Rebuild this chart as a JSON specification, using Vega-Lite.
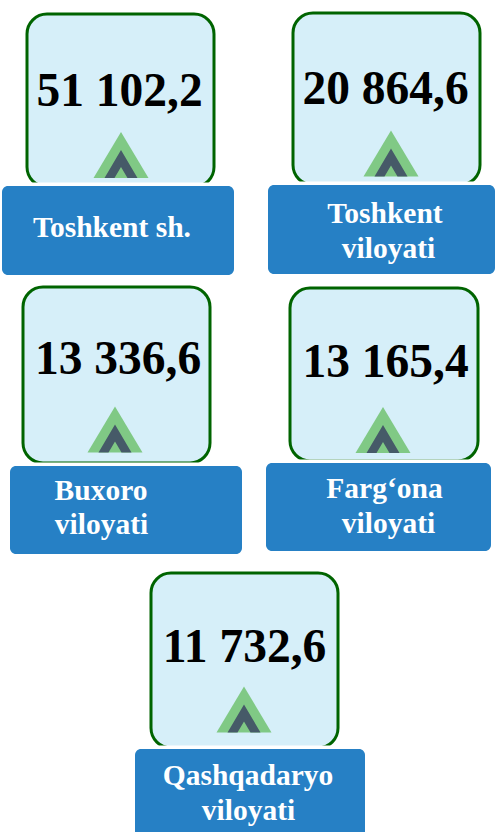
{
"$schema":"https://vega.github.io/schema/vega-lite/v6.json",
"width":495,"height":832,"padding":0,"autosize":"none",
"background":"white","view":{"stroke":null},
"datasets":{
"cards":[
{"rank":1,"end":11,"region":"Toshkent sh.","value":"51 102,2"},
{"rank":2,"end":12,"region":"Toshkent viloyati","value":"20 864,6"},
{"rank":3,"end":13,"region":"Buxoro viloyati","value":"13 336,6"},
{"rank":4,"end":14,"region":"Farg‘ona viloyati","value":"13 165,4"},
{"rank":5,"end":15,"region":"Qashqadaryo viloyati","value":"11 732,6"}],
"lines":[
{"n":1,"text":"Toshkent sh."},
{"n":2,"text":"Toshkent"},
{"n":3,"text":"viloyati"},
{"n":4,"text":"Buxoro"},
{"n":5,"text":"viloyati"},
{"n":6,"text":"Farg‘ona"},
{"n":7,"text":"viloyati"},
{"n":8,"text":"Qashqadaryo"},
{"n":9,"text":"viloyati"}]
},
"resolve":{"scale":{"x":"independent","y":"independent"}},
"layer":[
{"data":{"name":"cards"},"mark":{"type":"rect","fill":"#d6eff9","stroke":"#006400","strokeWidth":3,"cornerRadius":20},
"encoding":{
"x":{"field":"rank","type":"quantitative","axis":null,"scale":{"domain":[1,2,3,4,5,11,12,13,14,15],"range":[27,293,23,290,151,214,480,210,478,338]}},
"x2":{"field":"end"},
"y":{"field":"rank","type":"quantitative","axis":null,"scale":{"domain":[1,2,3,4,5,11,12,13,14,15],"range":[14,13,287,288,573,187,185,463,461,748]}},
"y2":{"field":"end"}}},
{"data":{"name":"cards"},"mark":{"type":"text","font":"Liberation Serif","fontWeight":"bold","fontSize":47.5,"align":"center","baseline":"alphabetic","fill":"#000000"},
"encoding":{
"x":{"field":"rank","type":"quantitative","axis":null,"scale":{"domain":[1,2,3,4,5],"range":[119.5,385.5,118,385.5,244.5]}},
"y":{"field":"rank","type":"quantitative","axis":null,"scale":{"domain":[1,2,3,4,5],"range":[106,104,374,377,662]}},
"text":{"field":"value"}}},
{"data":{"name":"cards"},"mark":{"type":"point","filled":true,"opacity":1,"size":3025,"strokeWidth":0,"fill":"#80c985","shape":"M0,-0.836L1,0.836L-1,0.836Z"},
"encoding":{
"x":{"field":"rank","type":"quantitative","axis":null,"scale":{"domain":[1,2,3,4,5],"range":[121,391,115,383,244]}},
"y":{"field":"rank","type":"quantitative","axis":null,"scale":{"domain":[1,2,3,4,5],"range":[155,153.5,429.5,430,709.5]}}}},
{"data":{"name":"cards"},"mark":{"type":"point","filled":true,"opacity":1,"size":3025,"strokeWidth":0,"fill":"#465a68","shape":"M0,-0.18L0.6,0.836L0.236,0.836L0,0.436L-0.236,0.836L-0.6,0.836Z"},
"encoding":{
"x":{"field":"rank","type":"quantitative","axis":null,"scale":{"domain":[1,2,3,4,5],"range":[121,391,115,383,244]}},
"y":{"field":"rank","type":"quantitative","axis":null,"scale":{"domain":[1,2,3,4,5],"range":[155,153.5,429.5,430,709.5]}}}},
{"data":{"name":"cards"},"mark":{"type":"rect","fill":"#ffffff","stroke":"#ffffff","strokeWidth":7,"cornerRadius":6},
"encoding":{
"x":{"field":"rank","type":"quantitative","axis":null,"scale":{"domain":[1,2,3,4,5,11,12,13,14,15],"range":[2,268,10,266,135,234,495,242,491,365]}},
"x2":{"field":"end"},
"y":{"field":"rank","type":"quantitative","axis":null,"scale":{"domain":[1,2,3,4,5,11,12,13,14,15],"range":[186,185,466,463,749,275,274,554,551,842]}},
"y2":{"field":"end"}}},
{"data":{"name":"cards"},"mark":{"type":"rect","fill":"#2680c5","cornerRadius":6},
"encoding":{
"x":{"field":"rank","type":"quantitative","axis":null,"scale":{"domain":[1,2,3,4,5,11,12,13,14,15],"range":[2,268,10,266,135,234,495,242,491,365]}},
"x2":{"field":"end"},
"y":{"field":"rank","type":"quantitative","axis":null,"scale":{"domain":[1,2,3,4,5,11,12,13,14,15],"range":[186,185,466,463,749,275,274,554,551,842]}},
"y2":{"field":"end"}}},
{"data":{"name":"lines"},"mark":{"type":"text","font":"Liberation Serif","fontWeight":"bold","fontSize":29.5,"align":"center","baseline":"alphabetic","fill":"#ffffff"},
"encoding":{
"x":{"field":"n","type":"quantitative","axis":null,"scale":{"domain":[1,2,3,4,5,6,7,8,9],"range":[112,385,388.5,101,101.5,384.5,388.5,248,248.5]}},
"y":{"field":"n","type":"quantitative","axis":null,"scale":{"domain":[1,2,3,4,5,6,7,8,9],"range":[237,223,258,500,534,498,533,785,820]}},
"text":{"field":"text"}}}
]
}
